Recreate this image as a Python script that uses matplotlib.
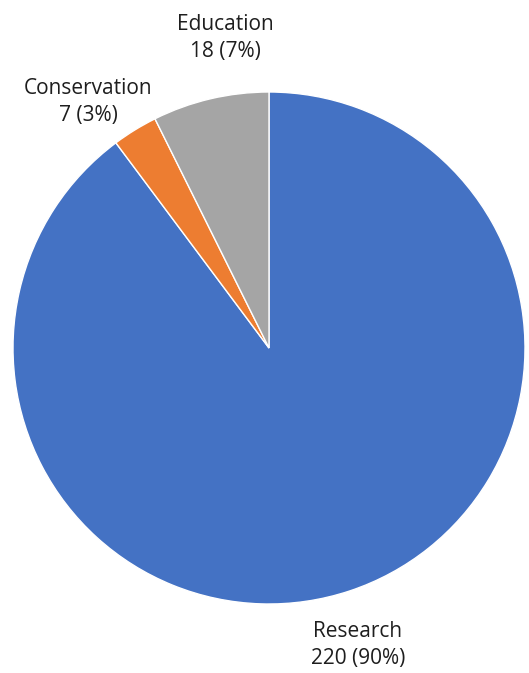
#!/usr/bin/env python3
"""Pie chart of activity categories (Research / Conservation / Education)."""

import matplotlib.pyplot as plt

categories = ["Research", "Conservation", "Education"]
counts = [220, 7, 18]
percent_labels = ["90%", "3%", "7%"]

COLORS = ["#4472C4", "#ED7D31", "#A5A5A5"]

W, H = 529, 673
plt.rcParams["font.family"] = ["Open Sans", "DejaVu Sans"]

fig = plt.figure(figsize=(W / 100, H / 100), dpi=100)
ax = fig.add_axes([0, 0, 1, 1])

cx, cy, r = 269, H - 348, 256
wedges, _ = ax.pie(
    counts,
    colors=COLORS,
    startangle=90,
    counterclock=False,
    center=(cx, cy),
    radius=r,
    frame=True,
    wedgeprops=dict(edgecolor="white", linewidth=1.0),
)
ax.set_xlim(0, W)
ax.set_ylim(0, H)
ax.set_aspect("equal")
ax.axis("off")

# label centres in pixel coords (x from left, y from top)
label_pos = [(358, 645), (88, 102), (225, 38)]
for name, n, pct, (x, y) in zip(categories, counts, percent_labels, label_pos):
    ax.text(x, H - y, f"{name}\n{n} ({pct})", ha="center", va="center",
            fontsize=15, color="#1e1e1e", linespacing=1.38)

fig.savefig("out.png", dpi=100)
